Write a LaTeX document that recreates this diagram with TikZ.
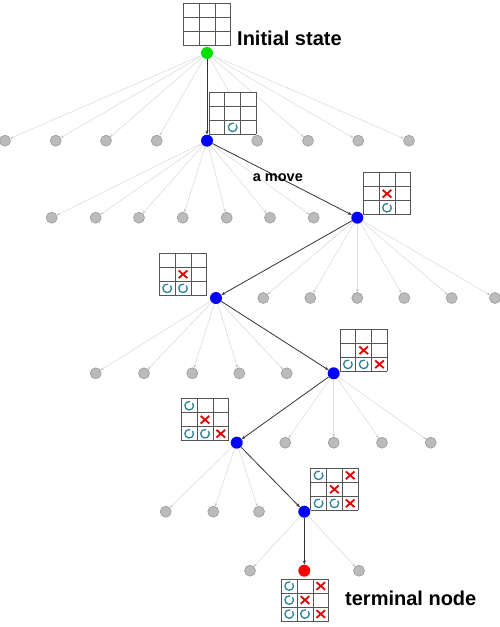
\documentclass[tikz,border=0pt]{standalone}
\usepackage{fontspec}
\setmainfont{Liberation Sans}
\usetikzlibrary{arrows.meta}
\definecolor{grayfill}{HTML}{BBBBBB}
\definecolor{grayline}{HTML}{999999}
\definecolor{lightedgec}{HTML}{DDDDDD}
\definecolor{darkedgec}{HTML}{333333}
\definecolor{boardc}{HTML}{555555}
\definecolor{xred}{HTML}{E00000}
\definecolor{oteal}{HTML}{2B8299}
\definecolor{greenn}{HTML}{00E000}
\tikzset{
  grayn/.style={circle,fill=grayfill,draw=grayline,line width=0.6pt,minimum size=11pt,inner sep=0pt},
  bluen/.style={circle,fill=blue,minimum size=12pt,inner sep=0pt},
  greenn/.style={circle,fill=greenn,minimum size=12pt,inner sep=0pt},
  redn/.style={circle,fill=red,minimum size=12pt,inner sep=0pt},
  lightedge/.style={draw=lightedgec,line width=0.6pt,-{Stealth[length=3pt,width=2.5pt,color=grayline!60]}},
  darkedge/.style={draw=darkedgec,line width=0.8pt,-{Stealth[length=4pt,width=3pt]}},
  boardline/.style={draw=boardc,line width=0.8pt},
  xstyle/.style={draw=xred,line width=1.8pt},
  ostyle/.style={draw=oteal,line width=1.3pt},
  lbl/.style={inner sep=0pt,font=\bfseries\fontsize{20}{24}\selectfont},
  lbls/.style={inner sep=0pt,font=\bfseries\fontsize{14.5}{17}\selectfont},
}
\newcommand\markX[2]{\draw[xstyle] ({(#1+0.5)*15.8-4.3},{(#2+0.5)*14-3.8}) -- ++(8.6,7.6) ({(#1+0.5)*15.8-4.3},{(#2+0.5)*14+3.8}) -- ++(8.6,-7.6);}
\newcommand\markO[2]{\draw[ostyle] ({(#1+0.5)*15.8},{(#2+0.5)*14}) ++(-40:4.3) arc[start angle=-40,end angle=285,radius=4.3];}
\newcommand\tttboard[3]{%
  \begin{scope}[shift={(#1,#2)}]
    \fill[white] (0,0) rectangle (47.4,42);
    \foreach \i in {0,1,2,3} {
      \draw[boardline] ({\i*15.8},0) -- ({\i*15.8},42);
      \draw[boardline] (0,{\i*14}) -- (47.4,{\i*14});
    }
    \foreach \c/\r/\m in {#3} {\m{\c}{\r}}
  \end{scope}}
\begin{document}
\begin{tikzpicture}[x=1pt,y=-1pt]
\useasboundingbox (0,0) rectangle (500,627);
% main path nodes
\node[greenn] (root) at (207,53) {};
\node[bluen] (b1) at (207,140.7) {};
\node[bluen] (b2) at (357.3,217.7) {};
\node[bluen] (b3) at (216,298) {};
\node[bluen] (b4) at (333.7,373.3) {};
\node[bluen] (b5) at (236.7,442.7) {};
\node[bluen] (b6) at (304.3,511.7) {};
\node[redn] (term) at (304.3,570.7) {};
% gray children
\foreach \x [count=\i] in {5,55.7,106,156.7,257.3,308,358.3,409}
  {\node[grayn] (ga\i) at (\x,140.7) {}; \draw[lightedge] (root) -- (ga\i);}
\foreach \x [count=\i] in {51.7,95.7,139,182.7,226.7,270,313.7}
  {\node[grayn] (gb\i) at (\x,217.7) {}; \draw[lightedge] (b1) -- (gb\i);}
\foreach \x [count=\i] in {263.3,310.3,357.3,404.3,451.7,495}
  {\node[grayn] (gc\i) at (\x,298) {}; \draw[lightedge] (b2) -- (gc\i);}
\foreach \x [count=\i] in {95.7,144,192.3,239.3,286.7}
  {\node[grayn] (gd\i) at (\x,373.3) {}; \draw[lightedge] (b3) -- (gd\i);}
\foreach \x [count=\i] in {285.3,333.7,382,430.7}
  {\node[grayn] (ge\i) at (\x,442.7) {}; \draw[lightedge] (b4) -- (ge\i);}
\foreach \x [count=\i] in {165.7,213.3,259}
  {\node[grayn] (gf\i) at (\x,511.7) {}; \draw[lightedge] (b5) -- (gf\i);}
\foreach \x [count=\i] in {250,359}
  {\node[grayn] (gg\i) at (\x,570.7) {}; \draw[lightedge] (b6) -- (gg\i);}
% boards
\tttboard{183.3}{3.3}{}
\tttboard{209}{92.3}{1/2/\markO}
\tttboard{363.3}{172.7}{1/1/\markX,1/2/\markO}
\tttboard{159.3}{253.3}{1/1/\markX,0/2/\markO,1/2/\markO}
\tttboard{340}{329.3}{1/1/\markX,0/2/\markO,1/2/\markO,2/2/\markX}
\tttboard{181.3}{398.7}{0/0/\markO,1/1/\markX,0/2/\markO,1/2/\markO,2/2/\markX}
\tttboard{310.7}{468.3}{0/0/\markO,2/0/\markX,1/1/\markX,0/2/\markO,1/2/\markO,2/2/\markX}
\tttboard{281.3}{579}{0/0/\markO,2/0/\markX,0/1/\markO,1/1/\markX,0/2/\markO,1/2/\markO,2/2/\markX}
% main path edges
\draw[darkedge] (root) -- (b1);
\draw[darkedge] (b1) -- (b2);
\draw[darkedge] (b2) -- (b3);
\draw[darkedge] (b3) -- (b4);
\draw[darkedge] (b4) -- (b5);
\draw[darkedge] (b5) -- (b6);
\draw[darkedge] (b6) -- (term);
% labels
\node[lbl,anchor=base west] (linit) at (237,45.7) {Initial state};
\node[lbls,anchor=base west] (lmove) at (252.7,181.5) {a move};
\node[lbl,anchor=base west] (lterm) at (345,605) {terminal node};
\end{tikzpicture}
\end{document}
